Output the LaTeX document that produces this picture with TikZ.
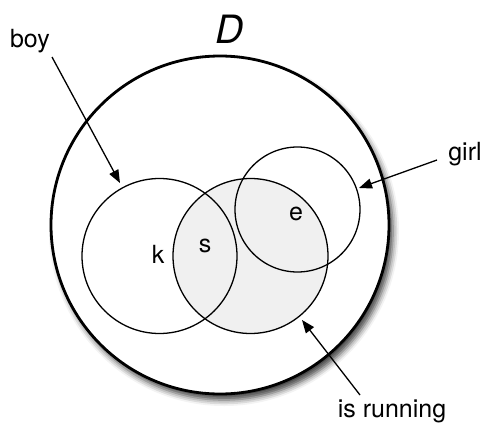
\documentclass[tikz,border=0pt]{standalone}
\usepackage{fontspec}
\setmainfont{TeX Gyre Heros}
\usetikzlibrary{arrows.meta,shadows.blur}
\begin{document}
\begin{tikzpicture}[x=1pt,y=-1pt,
  setcirc/.style={circle,draw=black,line width=1.3pt,inner sep=0pt},
  lbl/.style={font=\fontsize{25}{25}\selectfont,inner sep=0pt,anchor=base},
  pointer/.style={draw=black,line width=1.3pt,-{Triangle[length=13pt,width=10pt]}}]
\useasboundingbox (0,0) rectangle (485,423);
% universe
\node[circle,draw=black,line width=2.8pt,fill=white,minimum size=338pt,inner sep=0pt,
  blur shadow={shadow xshift=4pt,shadow yshift=-6pt,shadow blur radius=6pt,shadow opacity=75}] (dom) at (220,225) {};
% sets
\node[setcirc,fill=black!6,minimum size=155pt] (run) at (250.5,256) {};
\node[setcirc,minimum size=155pt] (boyc) at (159.5,256) {};
\node[setcirc,minimum size=125pt] (girlc) at (297.5,209.5) {};
% labels
\node[lbl,font=\fontsize{39}{39}\selectfont\itshape] (dlab) at (230,43) {D};
\node[lbl] (boy) at (30,47) {boy};
\node[lbl] (girl) at (465,160) {girl};
\node[lbl] (isrun) at (392,417) {is running};
\node[lbl] (k) at (158,263) {k};
\node[lbl] (s) at (205,252) {s};
\node[lbl] (e) at (296,220) {e};
% arrows
\coordinate (boyA) at (52,57);
\coordinate (boyB) at (120,183);
\coordinate (girlA) at (437,160);
\coordinate (girlB) at (359,188);
\coordinate (runA) at (360,395);
\coordinate (runB) at (302,320);
\draw[pointer] (boyA) -- (boyB);
\draw[pointer] (girlA) -- (girlB);
\draw[pointer] (runA) -- (runB);
\end{tikzpicture}
\end{document}
